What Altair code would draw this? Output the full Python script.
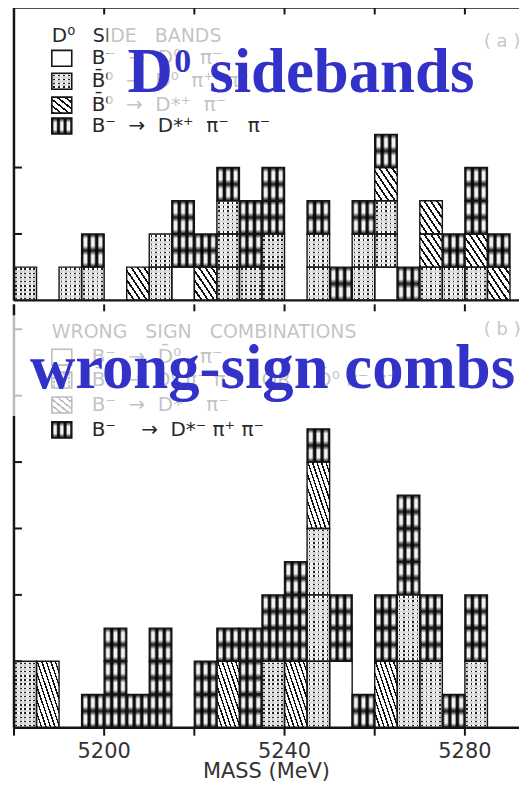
import altair as alt
import pandas as pd

# ---------------- data ----------------
BIN_START = 5180          # MeV, first bin edge
BIN_WIDTH = 5             # MeV
N_BINS = 22
X_MAX = 5292.0
CATS = ["white", "dotted", "hatched", "cross"]

# panel (a): D0 side bands, counts per 5 MeV bin
A_WHITE   = [0,0,0,0,0,0,0,1,0,0,0,0,0,0,0,0,1,0,0,0,0,0]
A_DOTTED  = [1,0,1,1,0,0,2,0,0,3,1,2,0,2,0,2,2,0,1,1,1,0]
A_HATCHED = [0,0,0,0,0,1,0,0,1,0,0,0,0,0,0,0,1,0,2,0,1,1]
A_CROSS   = [0,0,0,1,0,0,0,2,1,1,2,2,0,1,1,1,1,1,0,1,2,1]

# panel (b): wrong sign combinations, counts per 5 MeV bin
B_WHITE   = [0,0,0,0,0,0,0,0,0,0,0,0,0,0,2,0,0,0,0,0,0,0]
B_DOTTED  = [2,0,0,0,0,0,0,0,0,0,0,2,0,6,0,0,0,4,2,0,2,0]
B_HATCHED = [0,2,0,0,0,0,0,0,0,2,0,0,2,2,0,0,2,0,0,0,0,0]
B_CROSS   = [0,0,0,1,3,1,3,0,2,1,3,2,3,1,2,1,2,3,2,1,2,0]

A_BLOCK = {"white": 1, "dotted": 1, "hatched": 1, "cross": 1}
B_BLOCK = {"white": 2, "dotted": 2, "hatched": 2, "cross": 1}

A_YMAX = 8.82
B_YMAX = 12.75
A_YTICKS = [2, 4]
B_YTICKS = [2, 4, 6, 8, 10, 12]
X_TICKS = [5180, 5200, 5220, 5240, 5260, 5280]
X_LABELS = [5200, 5240, 5280]
FRAME_TICKS = [5200, 5220, 5240, 5260, 5280]

S = "\u00a0"  # non-collapsing space
A_HEADER = ["D⁰", "SIDE" + S * 3 + "BANDS"]
A_LEGEND = [
    "B⁻" + S * 2 + "→" + S * 2 + "D⁰" + S * 3 + "π⁻",
    "B̄⁰" + S * 2 + "→" + S * 2 + "D⁰" + S * 2 + "π⁺" + S * 2 + "π⁻",
    "B̄⁰" + S * 2 + "→" + S * 2 + "D*⁺" + S * 2 + "π⁻",
    "B⁻" + S * 2 + "→" + S * 2 + "D*⁺" + S * 2 + "π⁻" + S * 3 + "π⁻",
]
B_HEADER = "WRONG" + S * 3 + "SIGN" + S * 3 + "COMBINATIONS"
B_LEGEND = [
    "B⁻" + S * 2 + "→" + S * 2 + "D̄⁰" + S * 3 + "π⁻",
    "B̄⁰" + S * 2 + "→" + S * 2 + "D⁰" + S + "π⁻" + S + "π⁻" + S * 4 + "OR" + S * 4 + "D̄⁰" + S + "π⁻" + S + "π⁻",
    "B⁻" + S * 2 + "→" + S * 2 + "D*⁻" + S * 2 + "π⁻",
    "B⁻" + S * 4 + "→" + S * 2 + "D*⁻" + S + "π⁺" + S + "π⁻",
]
A_TAG = "(" + S + "a" + S + ")"
B_TAG = "(" + S + "b" + S + ")"
X_TITLE = "MASS (MeV)"
BLUE_A = ["D", "0", "sidebands"]
BLUE_B = "wrong-sign combs"

# ---------------- layout ----------------
W = 507
HA = 294
HB = 425
INK = "#151515"
TXT = "#2a2a2a"
BLUE = "#3232C8"

A_COUNTS = {"white": A_WHITE, "dotted": A_DOTTED, "hatched": A_HATCHED, "cross": A_CROSS}
B_COUNTS = {"white": B_WHITE, "dotted": B_DOTTED, "hatched": B_HATCHED, "cross": B_CROSS}


def make_blocks(counts, block):
    rows = []
    for i in range(N_BINS):
        base = 0
        for cat in CATS:
            size = block[cat]
            for _ in range(counts[cat][i] // size):
                rows.append({"x0": BIN_START + i * BIN_WIDTH,
                             "x1": BIN_START + (i + 1) * BIN_WIDTH,
                             "y0": base, "y1": base + size,
                             "cat": cat, "blk": size})
                base += size
    return pd.DataFrame(rows)


def grad(stops, x1, y1, x2, y2):
    return {"gradient": "linear", "x1": x1, "y1": y1, "x2": x2, "y2": y2,
            "stops": [{"offset": round(min(max(o, 0), 1), 5), "color": c} for o, c in stops]}


def hatch(n):
    st = []
    for i in range(n):
        a, b, c = i / n, (i + 0.32) / n, (i + 1) / n
        st += [(a, "#111"), (b, "#111"), (b, "#fff"), (c, "#fff")]
    return grad(st, 0, 1, 1, 0)


def cross_cols(n=3):
    st = []
    for j in range(n):
        a = j / n
        w = 1 / n
        st += [(a, "#0d0d0d"), (a + 0.12 * w, "#151515"), (a + 0.34 * w, "#f2f2f2"),
               (a + 0.66 * w, "#f2f2f2"), (a + 0.88 * w, "#151515"), (a + w, "#0d0d0d")]
    return grad(st, 0, 0, 1, 0)


def cross_rows(n):
    st = []
    for j in range(n):
        a = j / n
        w = 1 / n
        st += [(a, "rgba(0,0,0,0.85)"), (a + 0.07 * w, "rgba(0,0,0,0.7)"),
               (a + 0.28 * w, "rgba(0,0,0,0)"), (a + 0.72 * w, "rgba(0,0,0,0)"),
               (a + 0.93 * w, "rgba(0,0,0,0.7)"), (a + w, "rgba(0,0,0,0.85)")]
    return grad(st, 0, 0, 0, 1)


def dot_cols(n=5):
    st = []
    for j in range(n):
        a, b, c, d = j / n, (j + 0.32) / n, (j + 0.68) / n, (j + 1) / n
        st += [(a, "#fff"), (b, "#fff"), (b, "#222"), (c, "#222"), (c, "#fff"), (d, "#fff")]
    return grad(st, 0, 0, 1, 0)


def dot_rows(n):
    wc = "rgba(222,222,222,0.92)"
    st = []
    for j in range(n):
        a, b, c, d = j / n, (j + 0.32) / n, (j + 0.68) / n, (j + 1) / n
        st += [(a, wc), (b, wc), (b, "rgba(0,0,0,0)"), (c, "rgba(0,0,0,0)"), (c, wc), (d, wc)]
    return grad(st, 0, 0, 0, 1)


def fills(cat, size):
    if cat == "white":
        return ["#ffffff"]
    if cat == "dotted":
        return [dot_cols(5), dot_rows(8 * size)]
    if cat == "hatched":
        return [hatch(7 if size == 1 else 10)]
    return [cross_cols(3), cross_rows(2 * size)]


def swatch_fills(cat):
    if cat == "white":
        return ["#ffffff"]
    if cat == "dotted":
        return [dot_cols(4), dot_rows(4)]
    if cat == "hatched":
        return [hatch(5)]
    return [cross_cols(3), cross_rows(1)]


xs = alt.Scale(domain=[BIN_START, X_MAX], nice=False, zero=False)
ONE = pd.DataFrame({"k": [0]})


def bar_layers(df, ys):
    layers = []
    for cat in CATS:
        for size in sorted(df.loc[df.cat == cat, "blk"].unique()):
            for f in fills(cat, int(size)):
                layers.append(
                    alt.Chart(df)
                    .transform_filter((alt.datum.cat == cat) & (alt.datum.blk == int(size)))
                    .mark_rect(fill=f, strokeWidth=0)
                    .encode(x=alt.X("x0:Q", scale=xs, axis=None), x2="x1:Q",
                            y=alt.Y("y0:Q", scale=ys, axis=None), y2="y1:Q")
                )
    layers.append(
        alt.Chart(df).mark_rect(fillOpacity=0, stroke=INK, strokeWidth=1.4)
        .encode(x=alt.X("x0:Q", scale=xs, axis=None), x2="x1:Q",
                y=alt.Y("y0:Q", scale=ys, axis=None), y2="y1:Q")
    )
    return layers


def swatch(cat, x0, x1, y0, y1):
    out = []
    for f in swatch_fills(cat):
        out.append(alt.Chart(ONE).mark_rect(fill=f, strokeWidth=0).encode(
            x=alt.value(x0), x2=alt.value(x1), y=alt.value(y0), y2=alt.value(y1)))
    out.append(alt.Chart(ONE).mark_rect(fillOpacity=0, stroke=INK, strokeWidth=1.6).encode(
        x=alt.value(x0), x2=alt.value(x1), y=alt.value(y0), y2=alt.value(y1)))
    return out


def txt(s, px, py, size=18, color=TXT, font="DejaVu Sans", weight="normal",
        align="left", baseline="middle"):
    return alt.Chart(pd.DataFrame({"t": [s]})).mark_text(
        align=align, baseline=baseline, font=font, fontSize=size,
        fontWeight=weight, color=color).encode(x=alt.value(px), y=alt.value(py), text="t:N")


def hline(py, x0, x1, w=2.5):
    return alt.Chart(ONE).mark_rule(color=INK, strokeWidth=w).encode(
        x=alt.value(x0), x2=alt.value(x1), y=alt.value(py))


def vline(px, y0, y1, w=2.5):
    return alt.Chart(ONE).mark_rule(color=INK, strokeWidth=w).encode(
        x=alt.value(px), y=alt.value(y0), y2=alt.value(y1))


def yticks(vals, ys):
    return alt.Chart(pd.DataFrame({"v": vals})).mark_rule(color=INK, strokeWidth=2).encode(
        y=alt.Y("v:Q", scale=ys, axis=None), x=alt.value(0), x2=alt.value(8))


def xticks(vals, y0, y1):
    return alt.Chart(pd.DataFrame({"v": vals})).mark_rule(color=INK, strokeWidth=2).encode(
        x=alt.X("v:Q", scale=xs, axis=None), y=alt.value(y0), y2=alt.value(y1))


def overlay(x0, x1, y0, y1):
    return alt.Chart(ONE).mark_rect(fill="#ffffff", opacity=0.72).encode(
        x=alt.value(x0), x2=alt.value(x1), y=alt.value(y0), y2=alt.value(y1))


# ---------------- panel (a) ----------------
ysA = alt.Scale(domain=[0, A_YMAX], nice=False, zero=True)
dfA = make_blocks(A_COUNTS, A_BLOCK)

layersA = bar_layers(dfA, ysA)
layersA += [vline(0, 0, HA), hline(0, 0, W), hline(HA, 0, W), yticks(A_YTICKS, ysA),
            xticks(FRAME_TICKS, 0, 7)]
layersA += [txt(A_HEADER[0], 38, 29, size=20), txt(A_HEADER[1], 79, 29, size=19)]
rowsA = [51, 74, 98, 119]
for cat, lab, cy in zip(CATS, A_LEGEND, rowsA):
    layersA += swatch(cat, 38, 58, cy - 8, cy + 8)
    layersA.append(txt(lab, 78, cy, size=20))
layersA.append(txt(A_TAG, 490, 35, size=18, color="#333", align="center"))
layersA.append(overlay(94, W, 18, 108))
layersA += [
    txt(BLUE_A[0], 114, 85, size=63, color=BLUE, font="Liberation Serif", weight="bold", baseline="alphabetic"),
    txt(BLUE_A[1], 161, 65, size=34, color=BLUE, font="Liberation Serif", weight="bold", baseline="alphabetic"),
    txt(BLUE_A[2], 196, 85, size=63, color=BLUE, font="Liberation Serif", weight="bold", baseline="alphabetic"),
]
top = alt.layer(*layersA).properties(width=W, height=HA)

# ---------------- panel (b) ----------------
ysB = alt.Scale(domain=[0, B_YMAX], nice=False, zero=True)
dfB = make_blocks(B_COUNTS, B_BLOCK)

layersB = bar_layers(dfB, ysB)
layersB += [vline(0, 0, HB), hline(HB, 0, W), yticks(B_YTICKS, ysB),
            xticks(FRAME_TICKS, 0, 7), xticks(X_TICKS, HB, HB + 8)]
layersB.append(
    alt.Chart(pd.DataFrame({"v": X_LABELS})).mark_text(
        font="DejaVu Sans", fontSize=21, color="#333", baseline="middle", align="center")
    .encode(x=alt.X("v:Q", scale=xs, axis=None), y=alt.value(HB + 24), text=alt.Text("v:Q", format="d"))
)
layersB.append(txt(X_TITLE, W / 2, HB + 44, size=21, color="#333", align="center"))
layersB.append(txt(B_HEADER, 38, 28, size=19))
rowsB = [53, 76, 101, 126]
for cat, lab, cy in zip(CATS, B_LEGEND, rowsB):
    layersB += swatch(cat, 38, 58, cy - 8, cy + 8)
    layersB.append(txt(lab, 78, cy, size=20))
layersB.append(txt(B_TAG, 490, 26, size=18, color="#333", align="center"))
layersB.append(overlay(-3, W, 11, 112))
layersB.append(txt(BLUE_B, 16, 84, size=63, color=BLUE, font="Liberation Serif", weight="bold",
                   baseline="alphabetic"))
bottom = alt.layer(*layersB).properties(width=W, height=HB)

chart = (
    alt.vconcat(top, bottom, spacing=0)
    .properties(padding={"left": 3, "top": -4, "right": 0, "bottom": 0})
    .configure_view(strokeWidth=0)
)

chart.save("out.html", embed_options={"renderer": "svg", "actions": False})
